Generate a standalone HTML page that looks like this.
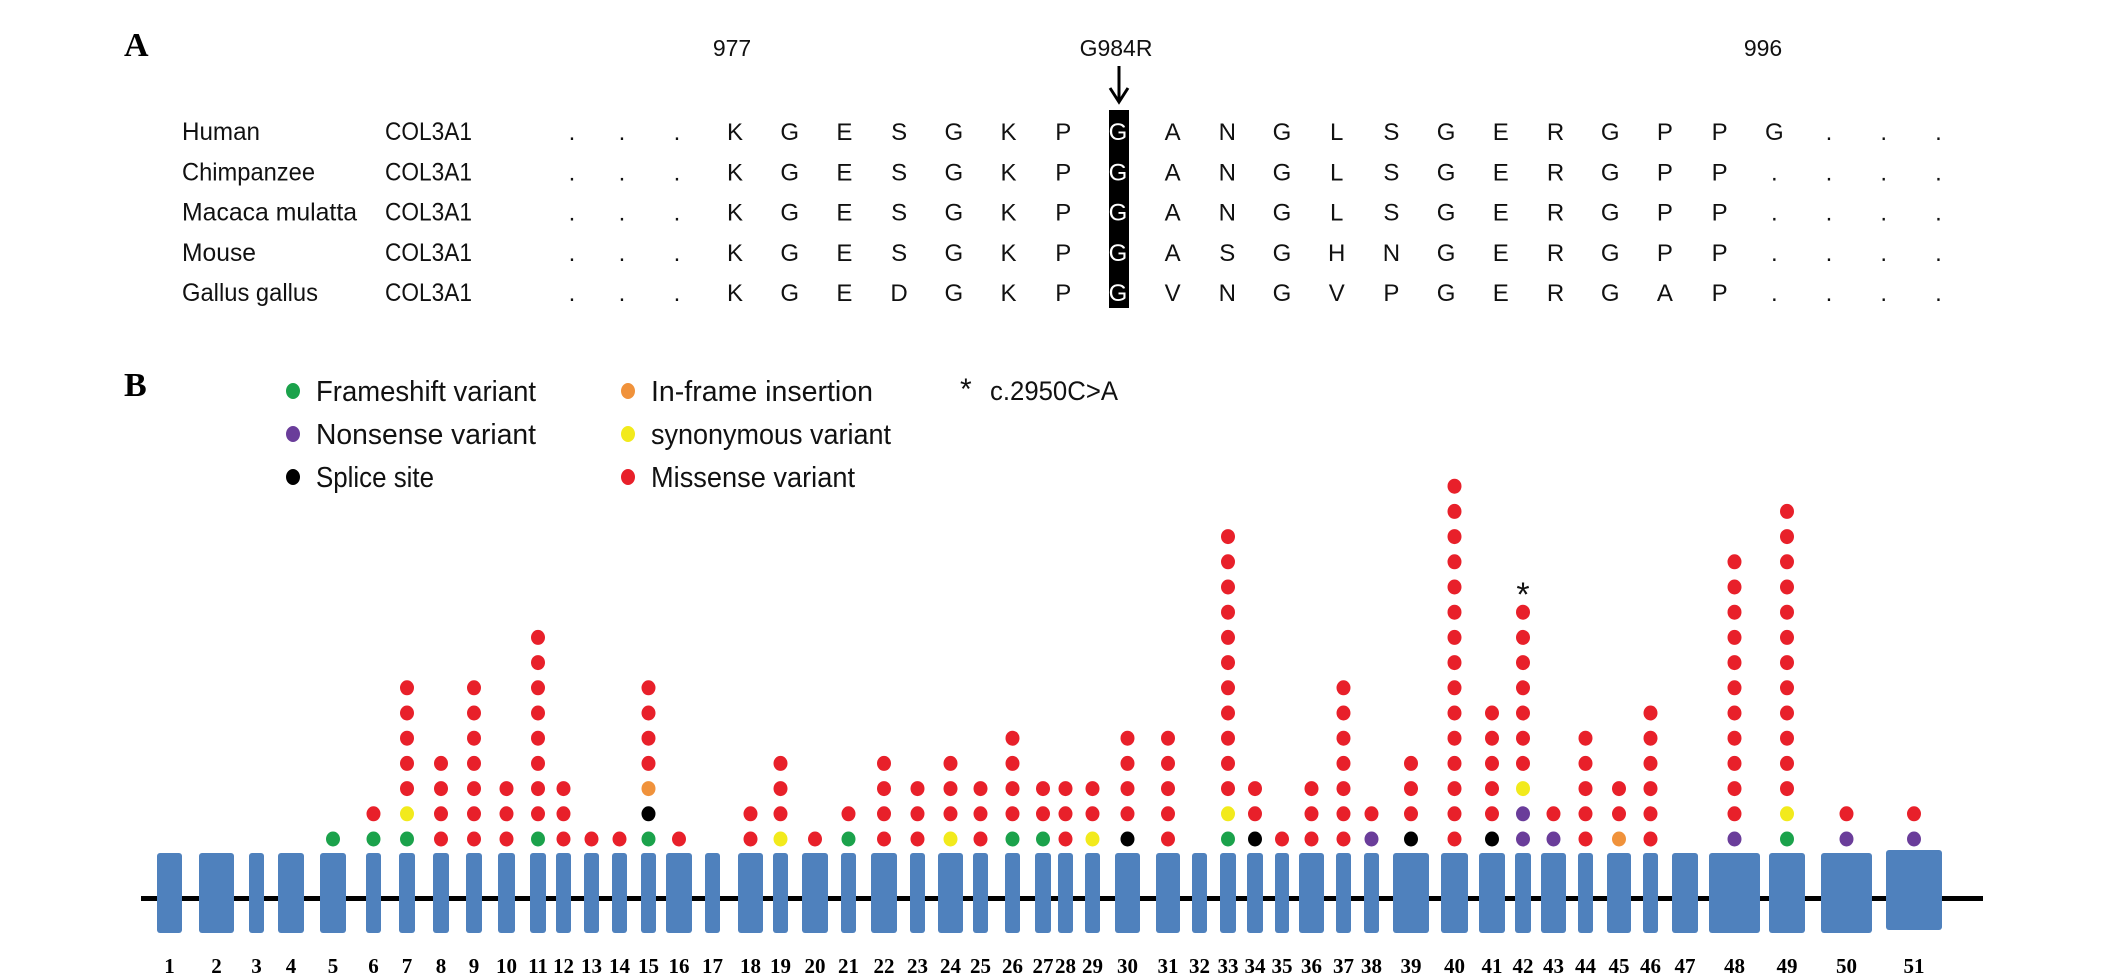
<!DOCTYPE html>
<html><head><meta charset="utf-8"><style>
html,body{margin:0;padding:0;background:#fff;}
svg{display:block;}
.s{font-family:"Liberation Sans",sans-serif;fill:#111;}
.b{font-family:"Liberation Serif",serif;font-weight:bold;fill:#000;}
</style></head><body>
<svg id="fig" width="2126" height="980" viewBox="0 0 2126 980" xmlns="http://www.w3.org/2000/svg">
<text class="b" x="124" y="56" font-size="34">A</text>
<text class="s" x="732" y="56" font-size="23" text-anchor="middle">977</text>
<text class="s" x="1116" y="56" font-size="23" text-anchor="middle">G984R</text>
<text class="s" x="1763" y="56" font-size="23" text-anchor="middle">996</text>
<g>
<line x1="1119" y1="66" x2="1119" y2="100" stroke="#000" stroke-width="3"/>
<polyline points="1110,88 1119,102 1128,88" fill="none" stroke="#000" stroke-width="3"/>
</g>
<rect x="1109" y="110" width="20" height="198" fill="#000"/>
<g id="align"></g>

<text class="b" x="124" y="396" font-size="34">B</text>
<g id="legend"></g>
<text class="s" x="960" y="399" font-size="30">*</text>
<text class="s" x="990" y="400" font-size="27" textLength="128" lengthAdjust="spacingAndGlyphs">c.2950C&gt;A</text>

<rect x="141" y="896" width="1842" height="5" fill="#000"/>
<g id="exons"></g>
<g id="dots"></g>
<text class="s" x="1523" y="606" font-size="34" text-anchor="middle">*</text>
</svg>
<script>
const NS="http://www.w3.org/2000/svg";
const species=["Human","Chimpanzee","Macaca mulatta","Mouse","Gallus gallus"];
const speciesWidths=[78,133,175,74,136];
const sequences=["KGESGKPGANGLSGERGPPG","KGESGKPGANGLSGERGPP","KGESGKPGANGLSGERGPP","KGESGKPGASGHNGERGPP","KGEDGKPGVNGVPGERGAP"];
const exonStart=[157,199,249,278,320,366,399,433,466,498,530,556,584,612,641,666,705,738,773,802,841,871,910,938,973,1005,1035,1058,1085,1115,1156,1192,1220,1247,1275,1299,1336,1364,1393,1441,1479,1515,1541,1578,1607,1643,1672,1709,1769,1821,1886];
const exonEnd=[182,234,264,304,346,381,415,449,482,515,546,571,599,627,656,692,720,763,788,828,856,897,925,963,988,1020,1051,1073,1100,1140,1180,1207,1236,1263,1289,1324,1351,1379,1429,1468,1505,1531,1566,1593,1631,1658,1698,1760,1805,1872,1942];
// variant stacks bottom-to-top: G frameshift, P nonsense, K splice, O insertion, Y synonymous, R missense
const variantStacks=["","","","","G","GR","GYRRRRR","RRRR","RRRRRRR","RRR","GRRRRRRRR","RRR","R","R","GKORRRR","R","","RR","YRRR","R","GR","RRRR","RRR","YRRR","RRR","GRRRR","GRR","RRR","YRR","KRRRR","RRRRR","","GYRRRRRRRRRRR","KRR","R","RRR","RRRRRRR","PR","KRRR","RRRRRRRRRRRRRRR","KRRRRR","PPYRRRRRRR","PR","RRRRR","ORR","RRRRRR","","PRRRRRRRRRRR","GYRRRRRRRRRRRR","PR","PR"];
const colors={G:"#1ba24b",P:"#6a3d9a",K:"#000000",O:"#f0923b",Y:"#f2ea1c",R:"#e8202a"};
const legendLabels=["Frameshift variant","Nonsense  variant","Splice site","In-frame insertion","synonymous variant","Missense variant"];
const legendCodes=["G","P","K","O","Y","R"];
const legendWidths=[220,220,118,222,240,204];

function mk(tag,attrs,parent){const e=document.createElementNS(NS,tag);for(const k in attrs)e.setAttribute(k,attrs[k]);parent.appendChild(e);return e;}
const colX=i=>735+54.7*i;
const rowY=r=>140+40.3*r;
const align=document.getElementById('align');
species.forEach((sp,r)=>{
  const y=rowY(r);
  let t=mk('text',{x:182,y:y,'font-size':25,class:'s',textLength:speciesWidths[r],lengthAdjust:'spacingAndGlyphs'},align);t.textContent=sp;
  
  
  t=mk('text',{x:385,y:y,'font-size':25,class:'s',textLength:87,lengthAdjust:'spacingAndGlyphs'},align);t.textContent="COL3A1";
  
  
  [572,622,677].forEach(x=>{const d=mk('text',{x:x,y:y,'font-size':24,class:'s','text-anchor':'middle'},align);d.textContent=".";
    
    });
  const seq=sequences[r];
  for(let i=0;i<23;i++){
    const ch=i<seq.length?seq[i]:".";
    const a={x:colX(i),y:y,'font-size':24,class:'s','text-anchor':'middle'};
    const el=mk('text',a,align);el.textContent=ch;
    if(i===7)el.setAttribute('style','fill:#fff');
    
    
  }
});
const lg=document.getElementById('legend');
legendLabels.forEach((lab,i)=>{
  const col=Math.floor(i/3),row=i%3;
  const x=col?628:293,y=390+43*row;
  const c=mk('ellipse',{cx:x,cy:y+1,rx:7,ry:8,fill:colors[legendCodes[i]]},lg);
  
  
  const t=mk('text',{x:x+23,y:y+11,'font-size':29,class:'s',textLength:legendWidths[i],lengthAdjust:'spacingAndGlyphs'},lg);t.textContent=lab;
  
  
});
const ex=document.getElementById('exons'),dots=document.getElementById('dots');
exonStart.forEach((s,i)=>{
  const e=exonEnd[i],top=(i===50)?850:853,bot=(i===50)?930:933;
  const r=mk('rect',{x:s,y:top,width:e-s,height:bot-top,rx:3,fill:"#4f81bd"},ex);
  
  
  const t=mk('text',{x:(s+e)/2,y:973,'font-size':21,class:'b','text-anchor':'middle'},ex);t.textContent=String(i+1);
  
  
  const st=variantStacks[i];
  for(let k=0;k<st.length;k++){
    const d=mk('ellipse',{cx:(s+e)/2,cy:839-25.2*k,rx:7,ry:7.5,fill:colors[st[k]]},dots);
    
    
  }
});
</script>
</body></html>
